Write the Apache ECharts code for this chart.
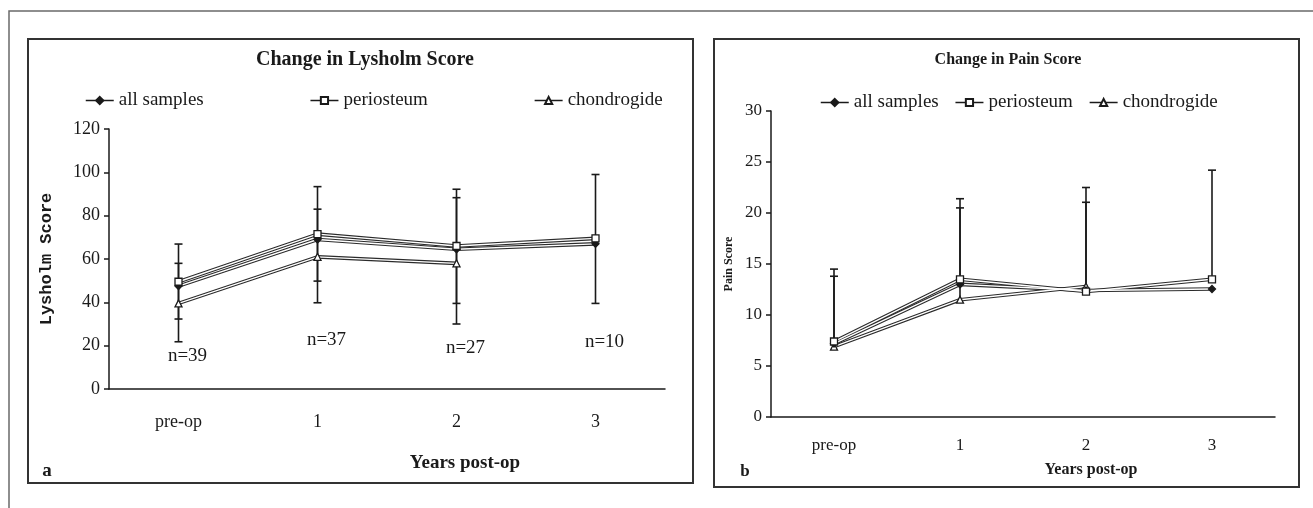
<!DOCTYPE html>
<html><head><meta charset="utf-8">
<script src="https://cdn.jsdelivr.net/npm/echarts@6/dist/echarts.min.js"></script>
<style>html,body{margin:0;padding:0;background:#fff}#c{width:1313px;height:508px}</style>
</head><body><div id="c"></div>
<script>
// ---------- data ----------
const categories = ['pre-op', '1', '2', '3'];
const seriesNames = ['all samples', 'periosteum', 'chondrogide'];

// Lysholm score (panel a)
const lysAll = [47.5, 69, 64.5, 67];
const lysPeri = [49.5, 71.5, 66, 69.5];
const lysChon = [39.5, 61, 58, null];
const lysPeriHigh = [66.9, 93.4, 92.2, 99];
const lysPeriLow = [32.3, 49.8, 39.5, 39.5];
const lysChonHigh = [58, 83, 88.3, null];
const lysChonLow = [21.8, 39.8, 30, null];
const lysN = ['n=39', 'n=37', 'n=27', 'n=10'];
const lysNValue = [15, 22.5, 19, 21.7];

// Pain score (panel b)
const painAll = [7.2, 13.0, 12.4, 12.55];
const painPeri = [7.4, 13.5, 12.3, 13.5];
const painChon = [6.9, 11.5, 12.8, null];
const painPeriHigh = [14.5, 21.4, 22.5, 24.2];
const painChonHigh = [13.8, 20.5, 21.05, null];

// ---------- helpers ----------
const SERIF = '"Liberation Serif", "DejaVu Serif", serif';
const INK = '#1a1a1a';

function errorBarSeries(lo, hi, xi, capLow) {
  const data = [];
  categories.forEach((c, i) => { if (hi[i] != null) data.push([i, lo[i], hi[i]]); });
  return {
    type: 'custom', xAxisIndex: xi, yAxisIndex: xi, silent: true, z: 1,
    encode: { x: 0, y: [1, 2] },
    data,
    renderItem: function (params, api) {
      const x = api.value(0);
      const pHi = api.coord([x, api.value(2)]);
      const pLo = api.coord([x, api.value(1)]);
      const w = 4;
      const st = { stroke: INK, lineWidth: 1.6 };
      const ch = [
        { type: 'line', shape: { x1: pHi[0], y1: pHi[1], x2: pLo[0], y2: pLo[1] }, style: st },
        { type: 'line', shape: { x1: pHi[0] - w, y1: pHi[1], x2: pHi[0] + w, y2: pHi[1] }, style: st }
      ];
      if (capLow) ch.push({ type: 'line', shape: { x1: pLo[0] - w, y1: pLo[1], x2: pLo[0] + w, y2: pLo[1] }, style: st });
      return { type: 'group', children: ch };
    }
  };
}

function lineGroup(name, data, symbol, fill, xi, size) {
  return [
    { name: name + ' outline', type: 'line', xAxisIndex: xi, yAxisIndex: xi, data, symbol: 'none',
      lineStyle: { color: '#2b2b2b', width: 3.6 }, z: 2, silent: true, animation: false },
    { name: name + ' core', type: 'line', xAxisIndex: xi, yAxisIndex: xi, data, symbol: 'none',
      lineStyle: { color: '#ffffff', width: 1.4 }, z: 3, silent: true, animation: false },
    { name: name, type: 'line', xAxisIndex: xi, yAxisIndex: xi, data, symbol, symbolSize: size,
      itemStyle: { color: fill, borderColor: INK, borderWidth: 1.3 },
      lineStyle: { width: 0, opacity: 0 }, z: 4, animation: false }
  ];
}

function yAxisCfg(gi, max, interval, fs, margin) {
  return {
    type: 'value', gridIndex: gi, min: 0, max, interval,
    axisLine: { show: true, lineStyle: { color: INK, width: 1.5 } },
    axisTick: { show: true, length: 5, lineStyle: { color: INK, width: 1.5 } },
    splitLine: { show: false },
    axisLabel: { color: INK, fontFamily: SERIF, fontSize: fs, margin }
  };
}
function xAxisCfg(gi, fs, margin) {
  return {
    type: 'category', gridIndex: gi, data: categories, boundaryGap: true,
    axisLine: { show: true, lineStyle: { color: INK, width: 1.5 } },
    axisTick: { show: false },
    axisLabel: { color: INK, fontFamily: SERIF, fontSize: fs, margin }
  };
}

const legendBase = {
  data: seriesNames, itemWidth: 28, itemHeight: 9, selectedMode: false,
  textStyle: { color: INK, fontFamily: SERIF, fontSize: 19 },
  lineStyle: { color: INK, width: 1.5, opacity: 1 }
};

const chart = echarts.init(document.getElementById('c'));
chart.setOption({
  animation: false,
  backgroundColor: '#fff',
  grid: [
    { left: 109, top: 129, width: 556, height: 260 },
    { left: 771, top: 111, width: 504, height: 306 }
  ],
  xAxis: [xAxisCfg(0, 18, 24), xAxisCfg(1, 17, 20)],
  yAxis: [
    Object.assign(yAxisCfg(0, 120, 20, 18, 9), {
      name: 'Lysholm Score', nameLocation: 'middle', nameGap: 54, nameRotate: 90,
      nameTextStyle: { fontFamily: '"Liberation Mono", monospace', fontWeight: 'bold', fontSize: 17, color: INK }
    }),
    Object.assign(yAxisCfg(1, 30, 5, 17, 9), {
      name: 'Pain Score', nameLocation: 'middle', nameGap: 36, nameRotate: 90,
      nameTextStyle: { fontFamily: SERIF, fontWeight: 'bold', fontSize: 12, color: INK }
    })
  ],
  legend: [
    Object.assign({}, legendBase, { left: 80, top: 86, itemGap: 106 }),
    Object.assign({}, legendBase, { left: 815, top: 88, itemGap: 16 })
  ],
  graphic: [
    { type: 'rect', shape: { x: 9, y: 11, width: 1330, height: 520 }, style: { fill: 'none', stroke: '#6a6a6a', lineWidth: 1.5 }, z: -10 },
    { type: 'rect', shape: { x: 28, y: 39, width: 665, height: 444 }, style: { fill: 'none', stroke: '#333', lineWidth: 2 }, z: -10 },
    { type: 'rect', shape: { x: 714, y: 39, width: 585, height: 448 }, style: { fill: 'none', stroke: '#333', lineWidth: 2 }, z: -10 },
    { type: 'text', x: 365, y: 60, style: { text: 'Change in Lysholm Score', fontFamily: SERIF, fontWeight: 'bold', fontSize: 20, fill: INK, textAlign: 'center', textVerticalAlign: 'middle' } },
    { type: 'text', x: 1008, y: 60, style: { text: 'Change in Pain Score', fontFamily: SERIF, fontWeight: 'bold', fontSize: 16, fill: INK, textAlign: 'center', textVerticalAlign: 'middle' } },
    { type: 'text', x: 465, y: 463, style: { text: 'Years post-op', fontFamily: SERIF, fontWeight: 'bold', fontSize: 19, fill: INK, textAlign: 'center', textVerticalAlign: 'middle' } },
    { type: 'text', x: 1091, y: 470, style: { text: 'Years post-op', fontFamily: SERIF, fontWeight: 'bold', fontSize: 16, fill: INK, textAlign: 'center', textVerticalAlign: 'middle' } },
    { type: 'text', x: 47, y: 471, style: { text: 'a', fontFamily: SERIF, fontWeight: 'bold', fontSize: 19, fill: INK, textAlign: 'center', textVerticalAlign: 'middle' } },
    { type: 'text', x: 745, y: 472, style: { text: 'b', fontFamily: SERIF, fontWeight: 'bold', fontSize: 17, fill: INK, textAlign: 'center', textVerticalAlign: 'middle' } }
  ],
  series: [
    errorBarSeries(lysPeriLow, lysPeriHigh, 0, true),
    errorBarSeries(lysChonLow, lysChonHigh, 0, true),
    errorBarSeries(painPeri, painPeriHigh, 1, false),
    errorBarSeries(painChon, painChonHigh, 1, false),
    ...lineGroup('chondrogide', lysChon, 'triangle', '#fff', 0, 7),
    ...lineGroup('all samples', lysAll, 'diamond', INK, 0, 7),
    ...lineGroup('periosteum', lysPeri, 'rect', '#fff', 0, 7),
    ...lineGroup('chondrogide', painChon, 'triangle', '#fff', 1, 7),
    ...lineGroup('all samples', painAll, 'diamond', INK, 1, 7),
    ...lineGroup('periosteum', painPeri, 'rect', '#fff', 1, 7),
    {
      name: 'counts', type: 'scatter', xAxisIndex: 0, yAxisIndex: 0, data: lysNValue,
      symbolSize: 1, itemStyle: { color: 'rgba(0,0,0,0)' }, silent: true, z: 5,
      label: { show: true, position: 'inside', offset: [9, 0], color: INK, opacity: 1,
        fontFamily: SERIF, fontSize: 19, formatter: p => lysN[p.dataIndex] }
    }
  ]
});
</script></body></html>
